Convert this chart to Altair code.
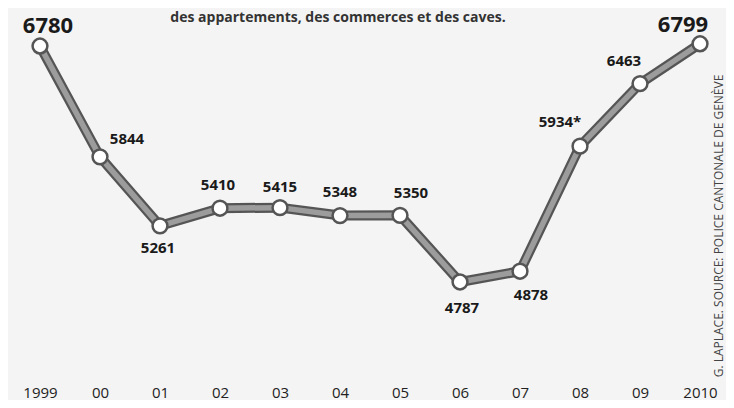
import altair as alt
import pandas as pd

years = [1999, 2000, 2001, 2002, 2003, 2004, 2005, 2006, 2007, 2008, 2009, 2010]
tick_labels = ["1999", "00", "01", "02", "03", "04", "05", "06", "07", "08", "09", "2010"]
values = [6780, 5844, 5261, 5410, 5415, 5348, 5350, 4787, 4878, 5934, 6463, 6799]
notes = ["", "", "", "", "", "", "", "", "", "*", "", ""]
title_text = "des appartements, des commerces et des caves."
credit_text = "G. LAPLACE. SOURCE: POLICE CANTONALE DE GENÈVE"

df = pd.DataFrame({
    "year": years,
    "value": values,
    "label": [f"{v}{n}" for v, n in zip(values, notes)],
})

# label placement (style): dx, dy, size
offsets = {
    1999: (8, -20, 22), 2000: (27, -18, 15), 2001: (-2, 22, 15), 2002: (-2, -23, 15),
    2003: (0, -21, 15), 2004: (0, -24, 15), 2005: (11, -22, 15), 2006: (2, 26, 15),
    2007: (11, 24, 15), 2008: (-20, -24, 15), 2009: (-16, -23, 15), 2010: (-17, -19, 22),
}

label_expr = "{" + ",".join(f"'{y}':'{t}'" for y, t in zip(years, tick_labels)) + "}[datum.value]"

x = alt.X("year:Q",
          scale=alt.Scale(domain=[1998.467, 2010.433], nice=False, zero=False),
          axis=alt.Axis(values=years, labelExpr=label_expr, title=None, domain=False,
                        ticks=False, grid=False, labelFontSize=15, labelFont="Open Sans",
                        labelColor="#222", labelPadding=11, labelFlush=False))
y = alt.Y("value:Q", scale=alt.Scale(domain=[4010, 7101], nice=False, zero=False), axis=None)

base = alt.Chart(df).encode(x=x, y=y)

outline = base.mark_line(color="#555555", strokeWidth=10, strokeCap="round")
inner = base.mark_line(color="#9c9c9c", strokeWidth=5.5, strokeCap="round")
points = base.mark_point(shape="circle", filled=True, fill="white", stroke="#555555",
                         strokeWidth=2.5, size=220, opacity=1)

layers = [outline, inner, points]
for yr, (dx, dy, sz) in offsets.items():
    layers.append(
        base.transform_filter(alt.datum.year == yr).mark_text(
            dx=dx, dy=dy, fontSize=sz, fontWeight="bold", font="Open Sans",
            color="#1a1a1a", align="center", baseline="middle"
        ).encode(text="label:N")
    )

title = alt.Chart(pd.DataFrame({"t": [title_text]})).mark_text(
    fontSize=14, fontWeight="bold", font="Open Sans", color="#333", align="center",
    baseline="alphabetic"
).encode(x=alt.value(330), y=alt.value(14), text="t:N")

credit = alt.Chart(pd.DataFrame({"t": [credit_text]})).mark_text(
    fontSize=12, font="Open Sans", color="#444", align="center", baseline="middle", angle=270
).encode(x=alt.value(711), y=alt.value(218), text="t:N")

chart = alt.layer(*layers, title, credit).properties(
    width=718, height=366,
    autosize=alt.AutoSizeParams(type="none"),
    padding={"left": 0, "top": 0, "right": 0, "bottom": 26},
    background="#f4f4f4",
).configure_view(stroke=None)

chart.save("out.html", embed_options={"renderer": "svg", "actions": False})
